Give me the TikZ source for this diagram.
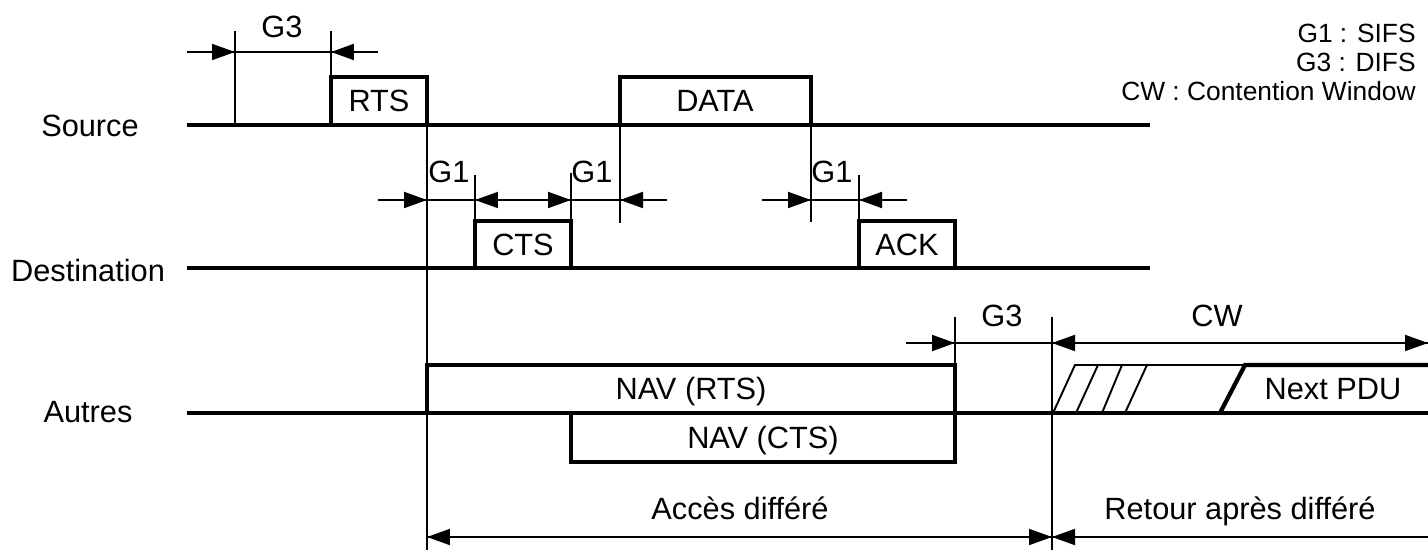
\documentclass[tikz,border=0pt]{standalone}
\usepackage{fontspec}
\setmainfont{Liberation Sans}
\usetikzlibrary{arrows.meta,positioning,calc}

\begin{document}
\begin{tikzpicture}[x=0.02cm,y=-0.02cm,
 sig/.style={line width=2.4pt,line join=miter},
 guide/.style={line width=1.1pt},
 tipin/.style={{Triangle[length=0.46cm,width=0.32cm]}-,line width=1.1pt},
 lbl/.style={inner sep=0pt,anchor=base,font=\fontsize{17.5}{20}\selectfont},
 legend/.style={inner sep=0pt,anchor=base east,font=\fontsize{15}{18}\selectfont}]
\useasboundingbox (0,0) rectangle (1428,550);

% stations
\node[lbl] (src) at (90,137) {Source};
\node[lbl] (dst) at (88,282) {Destination};
\node[lbl] (oth) at (88,423) {Autres};
\draw[sig] (187,125) -- (1150,125);
\draw[sig] (187,268) -- (1150,268);
\draw[sig] (187,413) -- (1428,413);

% frames
\draw[sig] (331,125) -- (331,77) -- (427,77) -- (427,125);
\draw[sig] (620,125) -- (620,77) -- (811,77) -- (811,125);
\draw[sig] (475,268) -- (475,221) -- (571,221) -- (571,268);
\draw[sig] (859,268) -- (859,221) -- (955,221) -- (955,268);
\draw[sig] (427,413) -- (427,365) -- (955,365) -- (955,413);
\draw[sig] (571,413) -- (571,462) -- (955,462) -- (955,413);
\node[lbl] (rts) at (379,112) {RTS};
\node[lbl] (data) at (715,112) {DATA};
\node[lbl] (cts) at (523,256) {CTS};
\node[lbl] (ack) at (907,256) {ACK};
\node[lbl] (navrts) at (691,400) {NAV (RTS)};
\node[lbl] (navcts) at (763,449) {NAV (CTS)};

% next frame after backoff
\draw[guide] (1053,413) -- (1075,365) -- (1245,365)
 (1076,413) -- (1098,365)
 (1102,413) -- (1122,365)
 (1125,413) -- (1147,365);
\draw[sig] (1220,413) -- (1245,365) -- (1428,365);
\node[lbl] (next) at (1333,400) {Next PDU};

% time marks
\path[guide]
(235,31) edge (235,125)
(331,31) edge (331,77)
(427,125) edge (427,550)
(475,175) edge (475,221)
(571,173) edge (571,221)
(620,125) edge (620,223)
(811,125) edge (811,222)
(859,175) edge (859,221)
(955,317) edge (955,365)
(1052,317) edge (1052,550)
;
\path[guide]
(187,52) edge (378,52)
(378,200) edge (667,200)
(762,200) edge (907,200)
(906,343) edge (1428,343)
(427,537) edge (1428,537)
;
\path[tipin]
(235,52) edge +(-28,0)
(331,52) edge +(28,0)
(427,200) edge +(-28,0)
(475,200) edge +(28,0)
(571,200) edge +(-28,0)
(620,200) edge +(28,0)
(811,200) edge +(-28,0)
(859,200) edge +(28,0)
(955,343) edge +(-28,0)
(1052,343) edge +(28,0)
(1428,343) edge +(-28,0)
(427,537) edge +(28,0)
(1052,537) edge +(-28,0)
(1052,537) edge +(28,0)
;
\node[lbl] (difs1) at (282,38) {G3};
\node[lbl] (sifs1) at (449,183) {G1};
\node[lbl] (sifs2) at (592,183) {G1};
\node[lbl] (sifs3) at (832,183) {G1};
\node[lbl] (difs2) at (1002,327) {G3};
\node[lbl] (cw) at (1217,327) {CW};
\node[lbl] (defer) at (740,520) {Accès différé};
\node[lbl] (back) at (1240,520) {Retour après différé};

% legend
\node[legend] (leg1) at (1416,43) {G1 : SIFS};
\node[legend] (leg3) at (1416,72) {G3 : DIFS};
\node[legend] (legcw) at (1416,101) {CW : Contention Window};
\end{tikzpicture}
\end{document}
